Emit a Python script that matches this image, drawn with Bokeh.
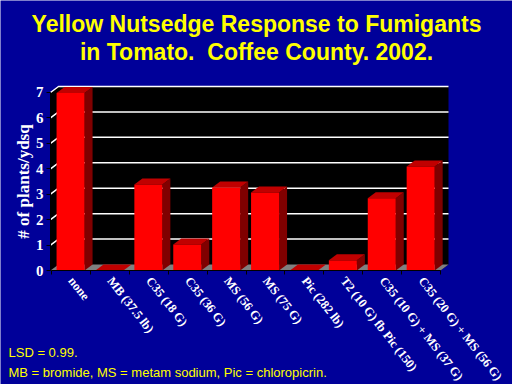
import math
from bokeh.plotting import figure
from bokeh.models import Range1d, FixedTicker, Label
from bokeh.embed import file_html
from bokeh.resources import INLINE

# ---- data ----
categories = ["none", "MB (37.5 lb)", "C35 (18 G)", "C35 (36 G)", "MS (56 G)",
              "MS (75 G)", "Pic (282 lb)", "T2 (10 G) fb Pic (150)",
              "C35 (10 G) + MS (37 G)", "C35 (20 G) + MS (56 G)"]
values = [6.98, 0.0, 3.38, 1.02, 3.26, 3.07, 0.0, 0.4, 2.84, 4.09]
y_ticks = [0, 1, 2, 3, 4, 5, 6, 7]
title_lines = ["Yellow Nutsedge Response to Fumigants",
               "in Tomato.\u00a0 Coffee County. 2002."]
notes = ["LSD = 0.99.", "MB = bromide, MS = metam sodium, Pic = chloropicrin."]
y_label = "# of plants/ydsq"

# ---- layout (pixels) ----
W, H = 512, 384
OX, OY = 51, 270          # pixel position of the front origin
PXX, PXY = 38.9, 25.43    # pixels per x unit / per y unit
NAVY = "#000099"

def sx(px):
    return (px - OX) / PXX

def sy(py):
    return (OY - py) / PXY

X0 = sx(50)
DX, DY = 8 / PXX, 6 / PXY
BL, BW = 0.13, 0.72

p = figure(width=W, height=H, output_backend="svg", toolbar_location=None,
           x_range=Range1d(sx(0), sx(W)), y_range=Range1d(sy(H), sy(0)),
           min_border=0)
p.background_fill_color = NAVY
p.border_fill_color = NAVY
p.outline_line_color = None
p.xgrid.visible = False
p.ygrid.visible = False

n = len(categories)
top = y_ticks[-1]
# back walls
p.patch([X0, X0, X0 + DX, n + DX, n + DX, n], [0, top, top + DY, top + DY, DY, 0],
        color="black", line_color=None)
# grid lines
gx = [[X0, X0 + DX, n + DX] for k in y_ticks[1:]]
gy = [[k, k + DY, k + DY] for k in y_ticks[1:]]
p.multi_line(gx, gy, line_color="white", line_width=1.5)
# floor
p.patch([X0, n, n + DX, X0 + DX], [0, 0, DY, DY], color="#808080", line_color=None)

lefts = [i + BL for i in range(n)]
rights = [l + BW for l in lefts]
side_xs = [[r, r + DX, r + DX, r] for r in rights]
side_ys = [[0, DY, v + DY, v] for v in values]
top_xs = [[l, r, r + DX, l + DX] for l, r in zip(lefts, rights)]
top_ys = [[v, v, v + DY, v + DY] for v in values]
p.patches(side_xs, side_ys, color="#800000", line_color=None)
p.patches(top_xs, top_ys, color="#C00000", line_color=None)
p.quad(left=lefts, right=rights, bottom=0, top=values, color="#FF0000", line_color=None)

# x axis: labels at category centres, ticks at boundaries
centers = [i + 0.5 for i in range(n)]
xa = p.xaxis[0]
xa.fixed_location = 0
xa.bounds = (0, n)
xa.ticker = FixedTicker(ticks=centers, minor_ticks=list(range(n + 1)))
xa.major_label_overrides = {c: t for c, t in zip(centers, categories)}
xa.axis_line_color = "black"
xa.major_tick_line_color = None
xa.minor_tick_line_color = "black"
xa.minor_tick_out = 4
xa.minor_tick_in = 0
xa.major_label_orientation = -52 * math.pi / 180
xa.major_label_standoff = 2
xa.major_label_text_color = "white"
xa.major_label_text_font = "Liberation Serif"
xa.major_label_text_font_style = "bold"
xa.major_label_text_font_size = "12.5px"

ya = p.yaxis[0]
ya.fixed_location = X0
ya.ticker = FixedTicker(ticks=y_ticks)
ya.bounds = (0, top)
ya.axis_line_color = "black"
ya.major_tick_line_color = "black"
ya.major_tick_out = 4
ya.major_tick_in = 0
ya.minor_tick_line_color = None
ya.major_label_text_color = "white"
ya.major_label_text_font = "Liberation Serif"
ya.major_label_text_font_style = "bold"
ya.major_label_text_font_size = "15px"
ya.major_label_standoff = 3
ya.axis_label = y_label
ya.axis_label_text_color = "white"
ya.axis_label_text_font = "Liberation Serif"
ya.axis_label_text_font_style = "bold"
ya.axis_label_text_font_size = "17px"
ya.axis_label_standoff = 0

# titles and notes
for line, py in zip(title_lines, [23, 51]):
    p.add_layout(Label(x=sx(256), y=sy(py), text=line, text_align="center",
                       text_baseline="middle", text_color="#FFFF00",
                       text_font="Liberation Sans", text_font_style="bold",
                       text_font_size="23px"))
for line, py in zip(notes, [352, 372]):
    p.add_layout(Label(x=sx(8), y=sy(py), text=line, text_align="left",
                       text_baseline="middle", text_color="#FFFF00",
                       text_font="Liberation Sans", text_font_size="13px"))

open("out.html", "w").write(file_html(p, INLINE))
